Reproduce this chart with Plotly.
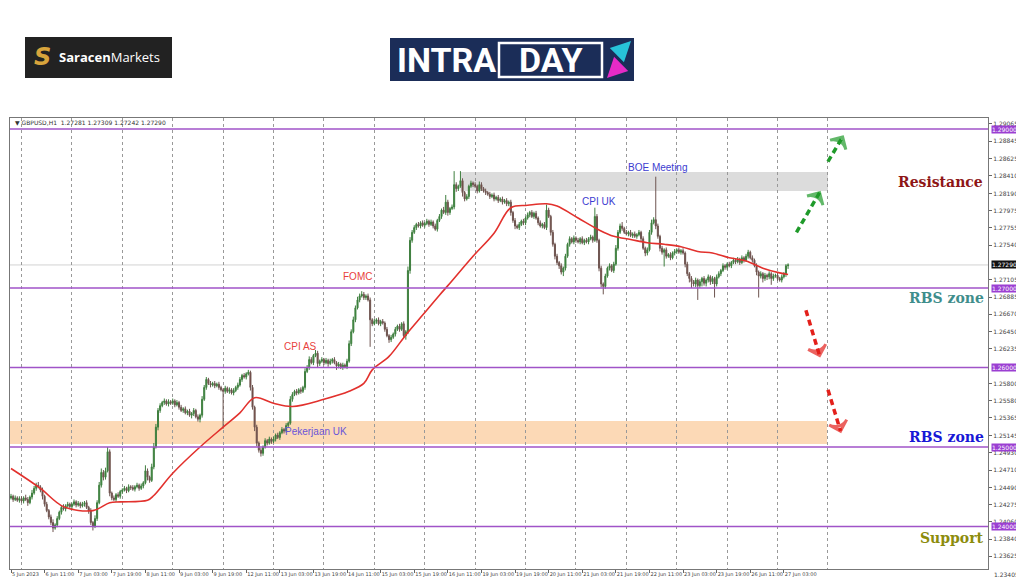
import plotly.graph_objects as go

# GBPUSD H1, closes in pips (12435 -> 1.2435); first bar is 5 Jun 2023 19:00
close_pips = [
    12438, 12434, 12436, 12433, 12435,  # 5 Jun
    12432, 12436, 12434, 12430, 12437, 12442, 12448, 12452, 12450, 12446, 12438, 12428,
    12420, 12412, 12405, 12398, 12402, 12410, 12418, 12424, 12422, 12426, 12428, 12425,  # 6 Jun
    12428, 12431, 12427, 12429, 12426, 12428, 12430, 12424, 12420, 12405, 12400, 12410,
    12430, 12452, 12468, 12462, 12470, 12494, 12442, 12436, 12434, 12440, 12438, 12444,  # 7 Jun
    12446, 12448, 12445, 12450, 12449, 12447, 12450, 12452, 12448, 12451, 12455, 12470,
    12462, 12458, 12475, 12500, 12525, 12546, 12552, 12556, 12558, 12554, 12557, 12555,  # 8 Jun
    12558, 12553, 12556, 12550, 12546, 12548, 12543, 12545, 12540, 12542, 12546, 12538,
    12535, 12540, 12560, 12575, 12585, 12580, 12578, 12580, 12577, 12579, 12575, 12572,  # 9 Jun
    12570, 12574, 12570, 12572, 12568, 12571, 12575, 12578, 12585, 12590, 12588, 12592,
    12594, 12575, 12550, 12525, 12505, 12496, 12492, 12500, 12508, 12505, 12510, 12507,  # 12 Jun
    12510, 12515, 12512, 12518, 12522, 12520, 12527, 12530, 12560, 12566, 12570, 12568,
    12572, 12570, 12575, 12595, 12600, 12610, 12606, 12615, 12618, 12605, 12608, 12610,  # 13 Jun
    12606, 12609, 12605, 12608, 12610, 12606, 12602, 12604, 12600, 12603, 12601, 12608,
    12630, 12645, 12660, 12675, 12685, 12690, 12692, 12688, 12690, 12685, 12660, 12655,  # 14 Jun
    12658, 12660, 12655, 12658, 12656, 12648, 12640, 12635, 12638, 12642, 12648, 12652,
    12648, 12655, 12640, 12645, 12722, 12760, 12770, 12776, 12780, 12778, 12782, 12779,  # 15 Jun
    12781, 12784, 12780, 12783, 12778, 12774, 12785, 12790, 12798, 12795, 12808, 12795,
    12800, 12802, 12830, 12825, 12828, 12835, 12820, 12812, 12815, 12828, 12832, 12830,  # 16 Jun
    12828, 12822, 12830, 12825, 12822, 12820, 12818, 12815, 12817, 12812, 12814, 12810,
    12812, 12808, 12810, 12806, 12808, 12795, 12785, 12778, 12776, 12780, 12784, 12782,  # 19 Jun
    12788, 12792, 12795, 12790, 12794, 12788, 12782, 12778, 12780, 12776, 12798, 12790,
    12770, 12755, 12740, 12732, 12728, 12720, 12725, 12740, 12755, 12762, 12758, 12763,  # 20 Jun
    12760, 12758, 12762, 12757, 12760, 12758, 12762, 12764, 12760, 12790, 12760, 12725,
    12705, 12702, 12715, 12725, 12728, 12722, 12730, 12750, 12770, 12778, 12775, 12770,  # 21 Jun
    12768, 12770, 12766, 12768, 12765, 12767, 12770, 12762, 12750, 12744, 12748, 12770,
    12782, 12786, 12778, 12765, 12750, 12745, 12748, 12740, 12742, 12738, 12744, 12746,  # 22 Jun
    12748, 12745, 12747, 12744, 12730, 12718, 12712, 12708, 12705, 12710, 12703, 12708,
    12712, 12706, 12710, 12714, 12708, 12712, 12705, 12714, 12718, 12722, 12728, 12726,  # 23 Jun
    12730, 12728, 12732, 12735, 12733, 12736, 12732, 12738, 12735, 12740, 12745, 12738,
    12735, 12728, 12720, 12715, 12718, 12712, 12716, 12714, 12718, 12712, 12715, 12716,  # 26 Jun
    12712, 12710, 12714, 12718, 12728, 12729,  # 27 Jun
]
first_open = 12436

# wick lengths above / below the body, pips
wick_hi = [
    3, 2, 3, 2, 3,
    3, 2, 4, 3, 2, 4, 3, 3, 4, 2, 3, 2, 3, 2, 3, 4, 2, 3, 2, 3, 4, 2, 3, 2,
    2, 3, 2, 3, 2, 3, 2, 3, 2, 3, 2, 4, 3, 4, 5, 3, 4, 6, 3, 2, 3, 2, 3, 2,
    2, 3, 2, 3, 2, 3, 2, 3, 2, 3, 2, 7, 3, 2, 4, 5, 4, 3, 3, 2, 3, 2, 3, 2,
    3, 2, 3, 2, 3, 2, 3, 2, 3, 2, 3, 2, 3, 2, 4, 3, 3, 2, 3, 2, 3, 2, 3, 2,
    2, 3, 2, 3, 2, 3, 2, 3, 3, 2, 3, 2, 3, 2, 3, 2, 3, 2, 3, 2, 3, 2, 3, 2,
    3, 2, 3, 2, 3, 2, 3, 2, 4, 3, 2, 3, 2, 3, 2, 4, 3, 4, 3, 2, 4, 3, 2, 3,
    2, 3, 2, 3, 2, 3, 2, 3, 2, 3, 2, 3, 4, 3, 4, 3, 4, 3, 4, 3, 2, 3, 3, 2,
    3, 2, 3, 2, 3, 2, 3, 2, 3, 2, 3, 2, 3, 2, 3, 2, 5, 4, 3, 3, 2, 3, 2, 3,
    2, 3, 2, 3, 2, 3, 2, 3, 2, 4, 9, 3, 2, 3, 17, 3, 2, 12, 3, 2, 3, 2, 3, 2,
    3, 2, 4, 3, 2, 3, 2, 3, 2, 3, 2, 3, 2, 3, 2, 3, 2, 3, 2, 3, 2, 3, 2, 3,
    2, 3, 2, 3, 2, 3, 2, 3, 2, 3, 7, 3, 2, 3, 2, 3, 2, 3, 2, 3, 2, 3, 2, 3,
    2, 3, 2, 3, 2, 3, 2, 3, 2, 11, 3, 2, 3, 2, 3, 2, 3, 2, 3, 4, 3, 3, 5, 2,
    3, 2, 3, 2, 3, 2, 3, 2, 3, 2, 3, 3, 4, 3, 54, 3, 2, 3, 2, 3, 2, 3, 2, 3,
    2, 3, 2, 3, 2, 3, 2, 3, 2, 3, 2, 3, 2, 3, 2, 3, 2, 3, 2, 3, 3, 2, 3, 2,
    2, 3, 2, 3, 2, 3, 2, 3, 2, 3, 3, 2, 3, 2, 3, 2, 3, 2, 3, 2, 3, 2, 3, 2,
    3, 2, 3, 2, 2, 2,
]
wick_lo = [
    2, 3, 2, 2, 3,
    2, 3, 2, 4, 2, 3, 2, 3, 2, 3, 4, 3, 2, 3, 3, 5, 2, 3, 2, 3, 2, 3, 2, 3,
    3, 2, 3, 2, 3, 2, 3, 2, 4, 3, 5, 2, 3, 2, 3, 4, 3, 2, 4, 3, 2, 3, 2, 3,
    3, 2, 3, 2, 3, 2, 3, 2, 3, 2, 3, 2, 4, 3, 2, 3, 2, 4, 3, 2, 3, 2, 3, 2,
    2, 3, 2, 3, 2, 3, 2, 3, 2, 4, 3, 2, 3, 4, 3, 2, 3, 2, 3, 2, 3, 2, 3, 2,
    47, 3, 2, 3, 2, 3, 2, 3, 2, 3, 2, 3, 2, 4, 3, 5, 4, 3, 4, 3, 2, 3, 2, 3,
    2, 3, 2, 3, 2, 3, 2, 3, 2, 3, 2, 3, 2, 3, 2, 3, 2, 3, 2, 3, 2, 5, 3, 2,
    3, 2, 4, 2, 3, 2, 5, 3, 2, 3, 2, 3, 2, 3, 2, 3, 2, 3, 2, 3, 3, 2, 34, 3,
    2, 3, 2, 3, 2, 3, 2, 4, 3, 2, 3, 2, 3, 2, 3, 5, 3, 4, 3, 2, 3, 2, 3, 2,
    3, 2, 3, 2, 3, 2, 3, 2, 3, 2, 3, 4, 3, 2, 3, 4, 3, 2, 5, 3, 2, 3, 2, 3,
    2, 3, 2, 3, 2, 3, 2, 3, 2, 3, 2, 3, 2, 3, 2, 3, 3, 4, 3, 4, 2, 3, 2, 3,
    3, 2, 3, 2, 3, 2, 3, 2, 3, 2, 3, 2, 4, 3, 4, 3, 4, 3, 5, 3, 2, 3, 2, 3,
    3, 2, 3, 2, 3, 2, 3, 2, 3, 2, 3, 4, 4, 10, 3, 2, 3, 2, 3, 2, 3, 2, 3, 2,
    2, 3, 2, 3, 2, 3, 2, 3, 2, 4, 3, 2, 3, 2, 4, 3, 4, 3, 18, 3, 2, 3, 2, 3,
    3, 2, 3, 2, 4, 3, 5, 8, 3, 4, 18, 3, 6, 3, 4, 3, 4, 3, 17, 3, 2, 3, 2, 3,
    3, 2, 3, 2, 3, 2, 3, 2, 3, 2, 3, 2, 3, 2, 4, 27, 3, 5, 3, 4, 3, 8, 3, 2,
    3, 2, 3, 2, 4, 4,
]

# moving average (bar index, pips)
ma_idx = [0, 14, 25, 39, 47, 52, 65, 68, 77, 90, 101, 109, 116, 125, 134, 149, 161, 168,
          172, 180, 188, 196, 204, 208, 220, 230, 238, 246, 255, 260, 270, 280, 287, 295,
          303, 311, 319, 327, 334, 342, 350, 358, 366, 370]
ma_pips = [12473, 12448, 12425, 12420, 12430, 12431, 12433, 12439, 12467, 12500, 12525,
           12543, 12562, 12555, 12551, 12560, 12570, 12580, 12597, 12614, 12641, 12666,
           12691, 12703, 12740, 12769, 12801, 12804, 12806, 12803, 12788, 12773, 12765,
           12761, 12757, 12755, 12752, 12746, 12744, 12738, 12734, 12725, 12719, 12717]

x_tick_idx = [0, 16, 32, 48, 64, 80, 96, 112, 128, 144, 160, 176, 192, 208, 224, 240,
              256, 272, 288, 304, 320, 336, 352, 368]
x_tick_text = ["5 Jun 2023", "6 Jun 11:00", "7 Jun 03:00", "7 Jun 19:00", "8 Jun 11:00",
               "9 Jun 03:00", "9 Jun 19:00", "12 Jun 11:00", "13 Jun 03:00", "13 Jun 19:00",
               "14 Jun 11:00", "15 Jun 03:00", "15 Jun 19:00", "16 Jun 11:00", "19 Jun 03:00",
               "19 Jun 19:00", "20 Jun 11:00", "21 Jun 03:00", "21 Jun 19:00", "22 Jun 11:00",
               "23 Jun 03:00", "23 Jun 19:00", "26 Jun 11:00", "27 Jun 03:00"]
day_starts = [5, 29, 53, 77, 101, 125, 149, 173, 197, 221, 245, 269, 293, 317, 341, 365, 389]

y_ticks = [1.29065, 1.28845, 1.28625, 1.28410, 1.28190, 1.27975, 1.27755, 1.27540,
           1.27105, 1.26885, 1.26670, 1.26450, 1.26235, 1.25800, 1.25580, 1.25365,
           1.25145, 1.24930, 1.24710, 1.24490, 1.24275, 1.24060, 1.23840, 1.23625]
levels = [1.29, 1.27, 1.26, 1.25, 1.24]
last_price = 1.2729
supply_zone = (1.28220, 1.28459)
demand_zone = (1.25038, 1.25327)

events = [("FOMC", 165, 1.2714, "#e8413c"), ("CPI AS", 138, 1.2627, "#e8413c"),
          ("Pekerjaan UK", 145, 1.2519, "#6a55d8"), ("CPI UK", 280, 1.2809, "#3c3cd0"),
          ("BOE Meeting", 308, 1.2852, "#3c3cd0")]

up_arrows = [([374, 385], [1.2770, 1.2820]), ([389, 396], [1.2859, 1.2890])]
down_arrows = [([378.5, 385], [1.2672, 1.2615]), ([389, 395], [1.2572, 1.2520])]

opens = [first_open] + close_pips[:-1]
highs = [max(o, c) + w for o, c, w in zip(opens, close_pips, wick_hi)]
lows = [min(o, c) - w for o, c, w in zip(opens, close_pips, wick_lo)]
bars = list(range(len(close_pips)))

fig = go.Figure()
fig.add_trace(go.Candlestick(
    x=bars,
    open=[v / 10000 for v in opens],
    high=[v / 10000 for v in highs],
    low=[v / 10000 for v in lows],
    close=[v / 10000 for v in close_pips],
    increasing=dict(line=dict(color="#3f7f3f", width=1), fillcolor="#2f8a35"),
    decreasing=dict(line=dict(color="#6e5550", width=1), fillcolor="#7a3b35"),
    whiskerwidth=0,
    hoverinfo="skip",
))
fig.add_trace(go.Scatter(x=ma_idx, y=[v / 10000 for v in ma_pips], mode="lines",
                         line=dict(color="#e2312d", width=1.6, shape="spline"),
                         hoverinfo="skip"))

# dashed direction arrows: a dashed line plus an open head pointing along it
for xs, ys, col in [(*a, "#1f9a2a") for a in up_arrows] + [(*a, "#e3201b") for a in down_arrows]:
    fig.add_trace(go.Scatter(x=xs, y=ys, mode="lines", cliponaxis=False,
                             line=dict(color=col, width=3.5, dash="6px,4px"), hoverinfo="skip"))
    fig.add_trace(go.Scatter(x=xs, y=ys, mode="markers", cliponaxis=False,
                             marker=dict(symbol="arrow-wide-open", size=[0, 13],
                                         angleref="previous", color=col,
                                         line=dict(color=col, width=3)),
                             hoverinfo="skip"))

# the page puts the figure 8px in from the top-left corner, so size it to fit
OFF = 8
FIG_W, FIG_H = 1024 - OFF, 587 - OFF
# plot area edges in page pixels
L, R, T, B = 10, 988, 118, 569


def px(x):
    return (x - L) / (R - L)


def py(y):
    return (B - y) / (B - T)


shapes = [
    dict(type="rect", xref="x", yref="y", x0=214, x1=389, y0=supply_zone[0], y1=supply_zone[1],
         fillcolor="#dcdcdc", line_width=0, layer="below"),
    dict(type="rect", xref="paper", yref="y", x0=0, x1=px(827), y0=demand_zone[0], y1=demand_zone[1],
         fillcolor="#fcd9b6", line_width=0, layer="below"),
    dict(type="line", xref="paper", yref="y", x0=0, x1=1, y0=last_price, y1=last_price,
         line=dict(color="#d2d2d2", width=1), layer="below"),
]
for lv in levels:
    shapes.append(dict(type="line", xref="paper", yref="y", x0=0, x1=1, y0=lv, y1=lv,
                       line=dict(color="#a053c8", width=1.6)))

# logos
shapes.append(dict(type="rect", xref="paper", yref="paper", x0=px(25), x1=px(172),
                   y0=py(78), y1=py(37), fillcolor="#222222", line_width=0))
shapes.append(dict(type="rect", xref="paper", yref="paper", x0=px(390), x1=px(634),
                   y0=py(81), y1=py(38), fillcolor="#1b2d58", line_width=0))
shapes.append(dict(type="rect", xref="paper", yref="paper", x0=px(499), x1=px(602),
                   y0=py(77), y1=py(43), line=dict(color="white", width=2.5)))


def note(x, y, text, size, color, family="DejaVu Sans", xanchor="center"):
    return dict(x=px(x), y=py(y), xref="paper", yref="paper", xanchor=xanchor, yanchor="middle",
                text=text, showarrow=False, font=dict(size=size, color=color, family=family))


annotations = [
    note(13, 122, "\u25bc GBPUSD,H1  1.27281 1.27309 1.27242 1.27290", 6, "#333333",
         xanchor="left"),
    note(42, 57, "<b><i>S</i></b>", 24, "#d8a43c"),
    note(57, 57, "<b>Saracen</b>Markets", 13, "white", "Open Sans", xanchor="left"),
    note(446, 60, "<b>INTRA</b>", 34, "white", "Roboto"),
    note(550, 60, "<b>DAY</b>", 34, "white", "Roboto"),
    dict(x=px(631), y=py(41), xref="paper", yref="paper", ax=-14, ay=14, text="",
         showarrow=True, arrowhead=2, arrowsize=0.8, arrowwidth=5, arrowcolor="#27c3d9"),
    dict(x=px(607), y=py(78), xref="paper", yref="paper", ax=14, ay=-14, text="",
         showarrow=True, arrowhead=2, arrowsize=0.8, arrowwidth=5, arrowcolor="#e52bc7"),
    note(985, 182, "<b>Resistance</b>", 14, "#8e1616", "DejaVu Serif", xanchor="right"),
    note(986, 298, "<b>RBS zone</b>", 14, "#3f8e8c", "DejaVu Serif", xanchor="right"),
    note(986, 437, "<b>RBS zone</b>", 14, "#1717d6", "DejaVu Serif", xanchor="right"),
    note(986, 538, "<b>Support</b>", 14, "#8c8c0c", "DejaVu Serif", xanchor="right"),
    note(992, 574, "1.23405", 6, "#444444", xanchor="left"),
]
for label, xi, yv, col in events:
    annotations.append(dict(x=xi, y=yv, xref="x", yref="y", text=label, showarrow=False,
                            font=dict(size=10, color=col, family="Liberation Sans")))

for lv in levels:
    annotations.append(dict(x=1, y=lv, xref="paper", yref="y", xanchor="left", xshift=3,
                            text=f"{lv:.5f}", showarrow=False, bgcolor="#9b3fd2", borderpad=0,
                            font=dict(size=6, color="white")))
annotations.append(dict(x=1, y=last_price, xref="paper", yref="y", xanchor="left", xshift=3,
                        text=f"{last_price:.5f}", showarrow=False, bgcolor="#111111", borderpad=0,
                        font=dict(size=6, color="white")))

fig.update_layout(
    width=FIG_W, height=FIG_H,
    margin=dict(l=L - OFF, r=1024 - R, t=T - OFF, b=587 - B),
    paper_bgcolor="white", plot_bgcolor="white",
    showlegend=False,
    font=dict(family="DejaVu Sans"),
    shapes=shapes,
    annotations=annotations,
)
fig.update_xaxes(
    range=[-0.48, 465.2], rangeslider_visible=False, automargin=False,
    tickmode="array", tickvals=x_tick_idx, ticktext=x_tick_text, tickangle=0,
    ticklabelposition="outside right", tickfont=dict(size=5, color="#444444"),
    ticks="outside", ticklen=3, tickcolor="#666666",
    showgrid=False, zeroline=False, showline=True, mirror=True, linecolor="#777777", linewidth=1,
    minor=dict(tickmode="array", tickvals=day_starts, showgrid=True, griddash="dot",
               gridcolor="#999999", gridwidth=1, ticks=""),
)
fig.update_yaxes(
    side="right", range=[1.234654, 1.291384], automargin=False,
    tickmode="array", tickvals=y_ticks, ticktext=[f"{v:.5f}" for v in y_ticks],
    tickfont=dict(size=6, color="#444444"), ticks="outside", ticklen=3, tickcolor="#666666",
    showgrid=False, zeroline=False, showline=True, mirror=True, linecolor="#777777", linewidth=1,
)

fig.write_html("out.html")
